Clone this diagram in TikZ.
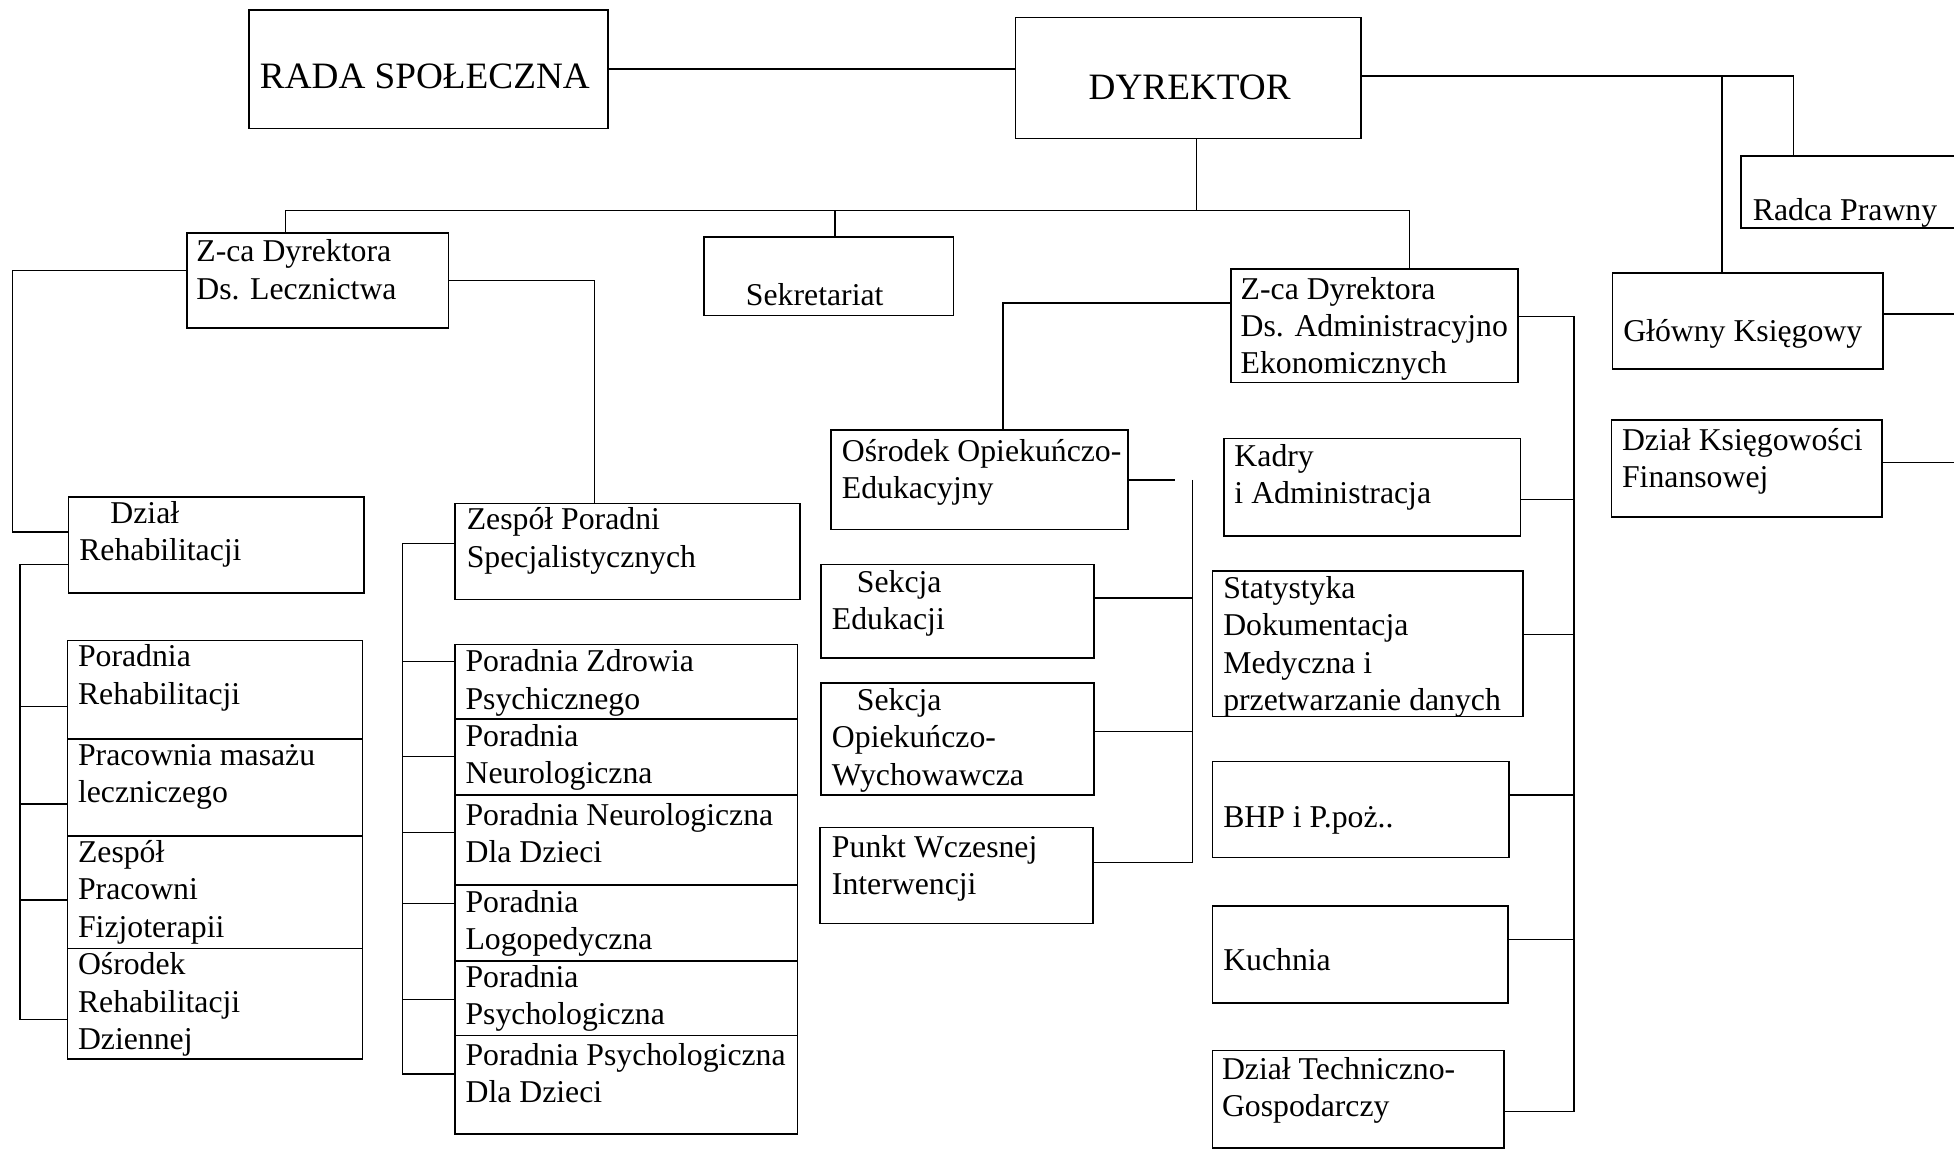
\documentclass[tikz,border=0pt]{standalone}
\usepackage{fontspec}
\setmainfont{Liberation Serif}
\usetikzlibrary{fit}

\begin{document}
\begin{tikzpicture}[x=0.02cm, y=-0.02cm, line width=0.7pt,
    unit/.style={draw, inner sep=0pt},
    txt/.style={anchor=base west, inner sep=0pt, align=left, font=\fontsize{14.5}{17}\selectfont},
    big/.style={txt, font=\fontsize{17}{20}\selectfont}]
\useasboundingbox (0,0) rectangle (1568,923);
\clip (0,0) rectangle (1568,923);

% top level
\node[unit, fit={(200,8) (488,103)}] (rada) {};
\node[unit, fit={(815,14) (1092,111)}] (dyr) {};
\node[unit, fit={(565,190) (765,253)}] (sekr) {};
\node[unit, fit={(150,187) (360,263)}] (zl) {};
\node[unit, fit={(988,216) (1218,307)}] (za) {};
\node[unit, fit={(1397,125) (1600,183)}] (radca) {};
\node[unit, fit={(1294,219) (1511,296)}] (glowny) {};
\node[unit, fit={(1293,337) (1510,415)}] (dksieg) {};

% base = last line
\node[big] (rada-t) at (208,71) {RADA SPOŁECZNA};
\node[big] (dyr-t) at (873,80) {DYREKTOR};
\node[txt] (sekr-t) at (598,245) {Sekretariat};
\node[txt] (zl-t) at (157,240) {Z-ca Dyrektora\\Ds. Lecznictwa};
\node[txt] (za-t) at (995,300) {Z-ca Dyrektora\\Ds. Administracyjno\\Ekonomicznych};
\node[txt] (radca-t) at (1406,177) {Radca Prawny};
\node[txt] (glowny-t) at (1302,274) {Główny Księgowy};
\node[txt] (dksieg-t) at (1301,391) {Dział Księgowości\\Finansowej};

% lecznictwo
\node[unit, fit={(55,399) (292,476)}] (dzreh) {};
\foreach \n/\a/\b in {pr1/514/593, pr2/593/671, pr3/671/761, pr4/761/850}
  \node[unit, fit={(54,\a) (291,\b)}] (\n) {};
\node[unit, fit={(365,404) (642,481)}] (zesp) {};
\foreach \n/\a/\b in {pz1/517/577, pz2/577/638, pz3/638/710, pz4/710/771, pz5/771/831, pz6/831/910}
  \node[unit, fit={(365,\a) (640,\b)}] (\n) {};

\node[txt] (dzreh-t) at (63,450) {\hspace*{0.5cm}Dział\\Rehabilitacji};
\node[txt] (pr1-t) at (62,565) {Poradnia\\Rehabilitacji};
\node[txt] (pr2-t) at (62,644) {Pracownia masażu\\leczniczego};
\node[txt] (pr3-t) at (62,752) {Zespół\\Pracowni\\Fizjoterapii};
\node[txt] (pr4-t) at (62,842) {Ośrodek\\Rehabilitacji\\Dziennej};
\node[txt] (zesp-t) at (374,455) {Zespół Poradni\\Specjalistycznych};
\node[txt] (pz1-t) at (373,569) {Poradnia Zdrowia\\Psychicznego};
\node[txt] (pz2-t) at (373,629) {Poradnia\\Neurologiczna};
\node[txt] (pz3-t) at (373,692) {Poradnia Neurologiczna\\Dla Dzieci};
\node[txt] (pz4-t) at (373,762) {Poradnia\\Logopedyczna};
\node[txt] (pz5-t) at (373,822) {Poradnia\\Psychologiczna};
\node[txt] (pz6-t) at (373,885) {Poradnia Psychologiczna\\Dla Dzieci};

% administracja
\node[unit, fit={(667,345) (905,425)}] (osr) {};
\node[unit, fit={(659,453) (878,528)}] (sed) {};
\node[unit, fit={(659,548) (878,638)}] (sow) {};
\node[unit, fit={(658,664) (877,741)}] (pwi) {};
\node[unit, fit={(982,352) (1220,430)}] (kadry) {};
\node[unit, fit={(973,458) (1222,575)}] (stat) {};
\node[unit, fit={(973,611) (1211,688)}] (bhp) {};
\node[unit, fit={(973,727) (1210,805)}] (kuch) {};
\node[unit, fit={(973,843) (1207,921)}] (dtg) {};

\node[txt] (osr-t) at (675,400) {Ośrodek Opiekuńczo-\\Edukacyjny};
\node[txt] (sed-t) at (667,505) {\hspace*{0.4cm}Sekcja\\Edukacji};
\node[txt] (sow-t) at (667,630) {\hspace*{0.4cm}Sekcja\\Opiekuńczo-\\Wychowawcza};
\node[txt] (pwi-t) at (667,718) {Punkt Wczesnej\\Interwencji};
\node[txt] (kadry-t) at (990,404) {Kadry\\i Administracja};
\node[txt] (stat-t) at (981,570) {Statystyka\\Dokumentacja\\Medyczna i\\przetwarzanie danych};
\node[txt] (bhp-t) at (981,664) {BHP i P.poż..};
\node[txt] (kuch-t) at (981,779) {Kuchnia};
\node[txt] (dtg-t) at (980,896) {Dział Techniczno-\\Gospodarczy};

% connectors
\coordinate (hub) at (960,169);
\coordinate (tr) at (1439,61);
\coordinate (gk) at (1382,61);

\draw (rada.east) -- (rada.east -| dyr.west);
\draw (dyr.east |- tr) -- (tr) -- (tr |- radca.north);
\draw (gk) -- (gk |- glowny.north);
\draw (glowny.east |- 0,252) -- +(80,0);
\draw (dksieg.east |- 0,371) -- +(80,0);

\draw (dyr.south -| hub) -- (hub);
\draw (zl.north -| 229,0) |- (hub) -| (za.north -| 1131,0);
\draw (sekr.north -| 670,0) -- (hub -| 670,0);

\draw (zl.west |- 0,217) -| (10,427) -- (dzreh.west |- 0,427);
\draw (dzreh.west |- 0,453) -| (16,818) -- (pr4.west |- 0,818);
\foreach \n/\y in {pr1/567, pr2/645, pr3/722}
  \draw (16,\y) -- (\n.west |- 0,\y);

\draw (zl.east |- 0,225) -| (zesp.north -| 477,0);
\draw (zesp.west |- 0,436) -| (323,862) -- (pz6.west |- 0,862);
\foreach \n/\y in {pz1/531, pz2/607, pz3/668, pz4/725, pz5/802}
  \draw (323,\y) -- (\n.west |- 0,\y);

\draw (za.west |- 0,243) -| (osr.north -| 805,0);
\draw (osr.east |- 0,385) -- (943,385);
\draw (957,385) -- (957,692);
\foreach \n/\y in {sed/480, sow/587, pwi/692}
  \draw (\n.east |- 0,\y) -- (957,\y);

\draw (za.east |- 0,254) -| (1263,892) -- (dtg.east |- 0,892);
\foreach \n/\y in {kadry/401, stat/509, bhp/638, kuch/754}
  \draw (\n.east |- 0,\y) -- (1263,\y);
\end{tikzpicture}
\end{document}
